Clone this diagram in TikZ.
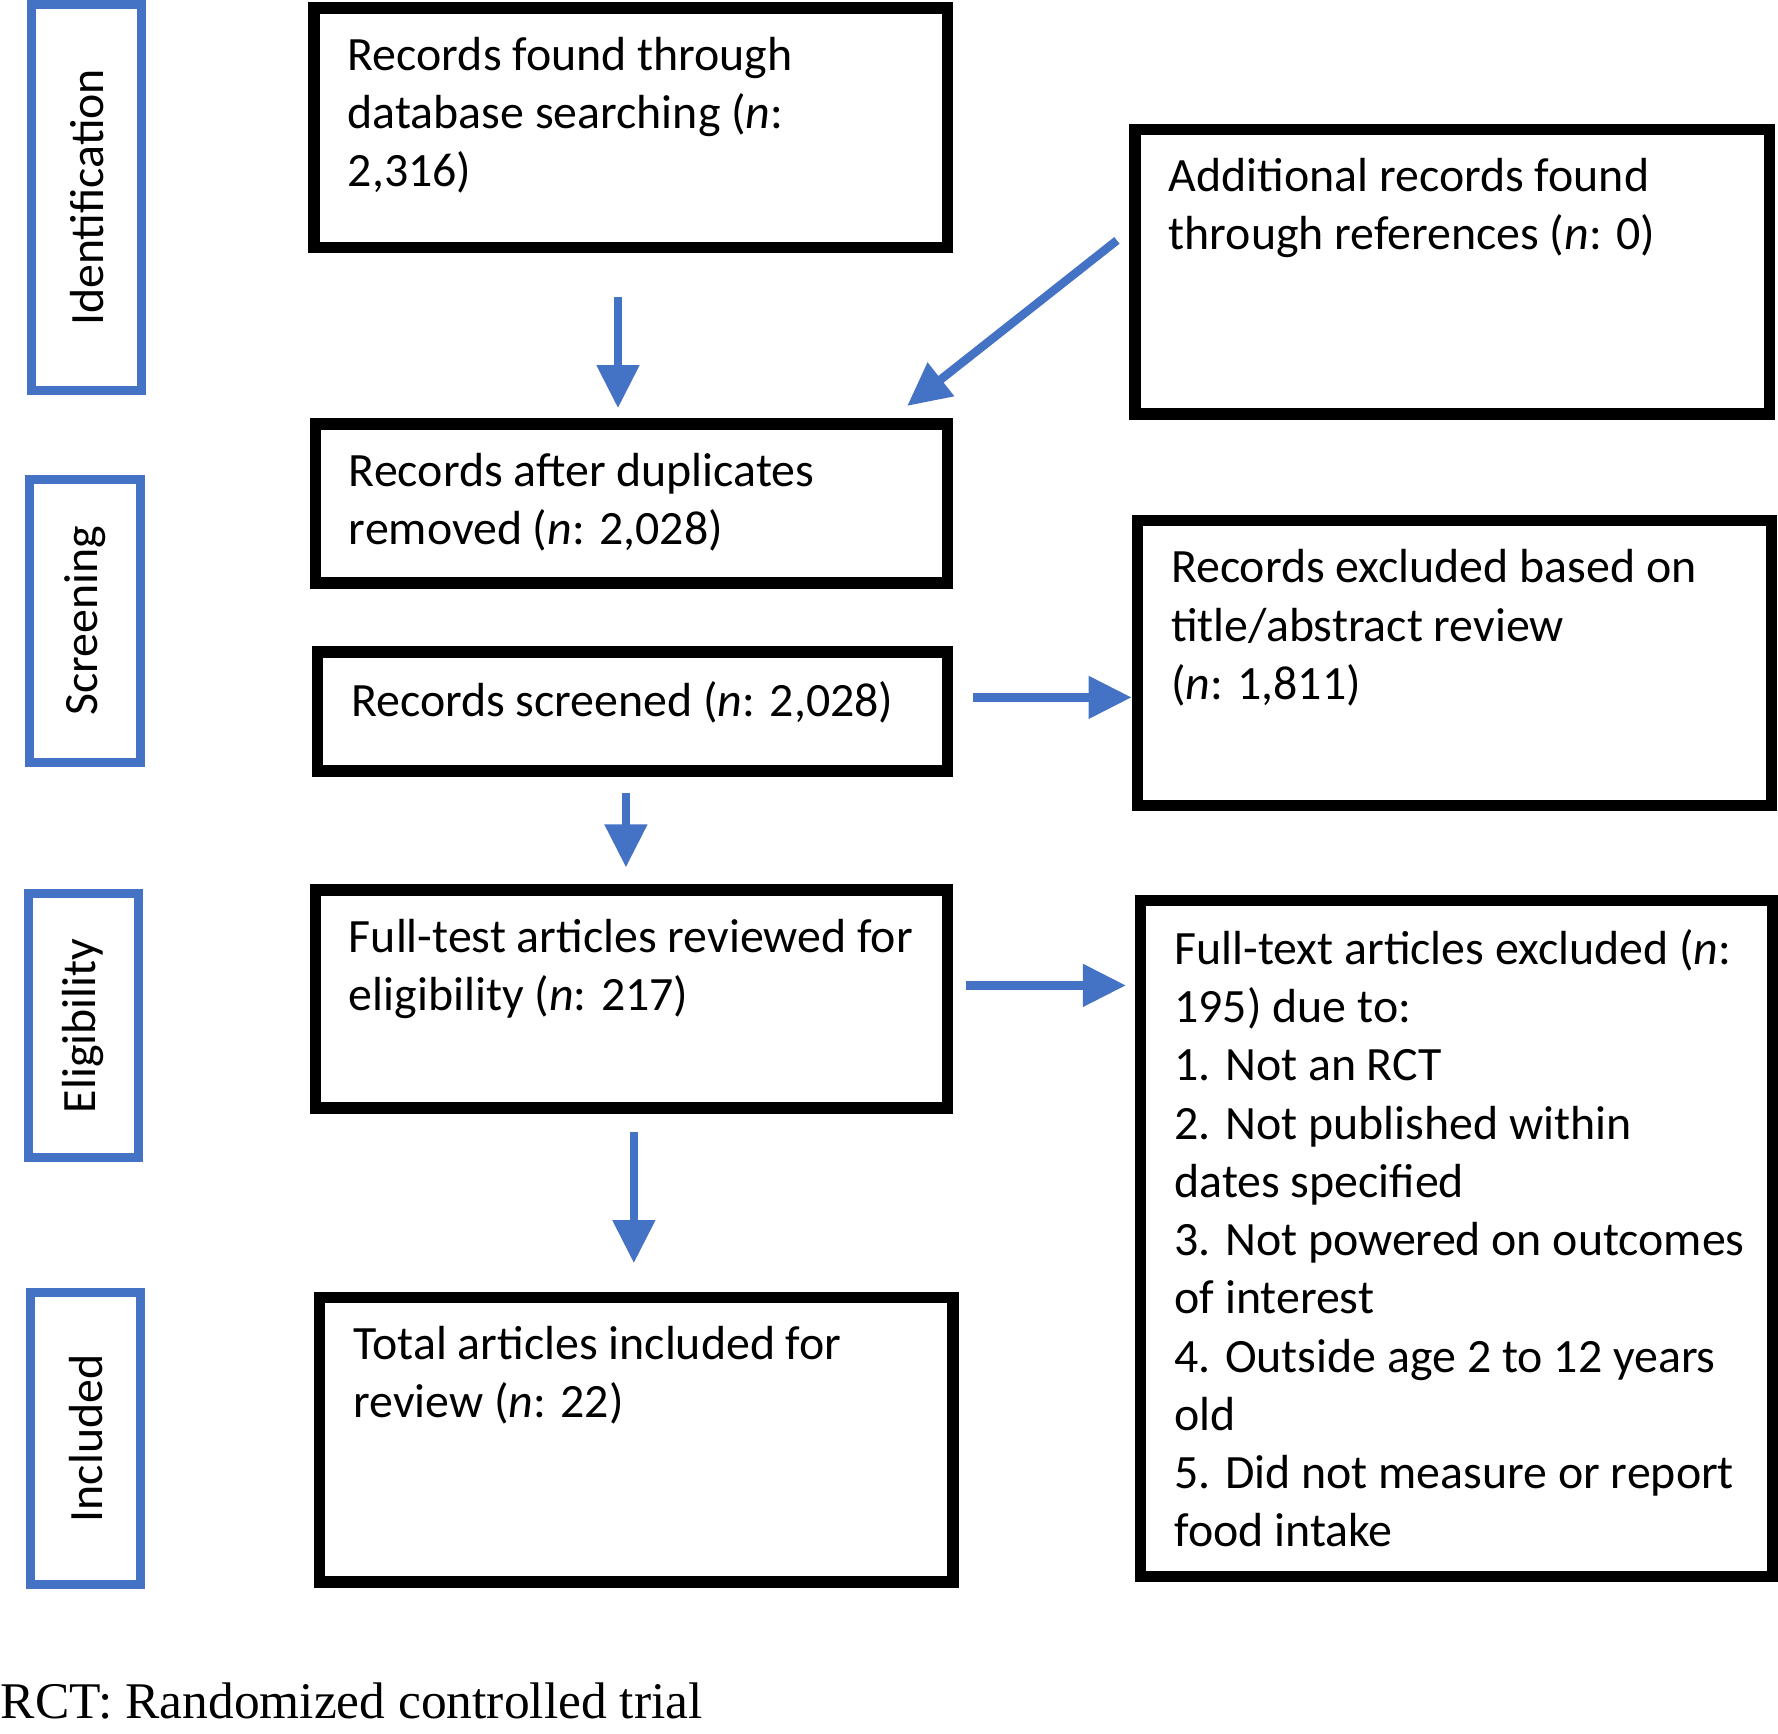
\documentclass[tikz,border=0pt]{standalone}
\usepackage{fontspec}
\setmainfont{Carlito}
\newfontfamily\notefont{Liberation Serif}
\usetikzlibrary{arrows.meta, positioning}

\begin{document}
\begin{tikzpicture}[
    x=0.01cm, y=-0.01cm,
    every node/.style={font=\fontsize{12}{14.6}\selectfont},
    box/.style={draw, line width=1mm, rectangle, anchor=north west, inner sep=0pt},
    stage/.style={draw=stageblue, line width=0.8mm, rectangle, anchor=north west, inner sep=0pt},
    stagetext/.style={rotate=90, inner sep=0pt},
    boxtext/.style={anchor=north west, align=left, inner sep=0pt},
    arrow/.style={-{Triangle[width=3.6mm,length=3.8mm]}, line width=0.75mm, draw=stageblue}
]
\definecolor{stageblue}{HTML}{4472C4}
\useasboundingbox (0,0) rectangle (1568,1529);

% === Stage labels (left column) ===
\node[stage, minimum width=0.97cm, minimum height=3.4cm] (ident) at (24,0) {};
\node[stagetext] at (ident.center) {Identification};
\node[stage, minimum width=0.98cm, minimum height=2.49cm] (screen) at (22,419) {};
\node[stagetext] at (screen.center) {Screening};
\node[stage, minimum width=0.97cm, minimum height=2.33cm] (elig) at (21,784) {};
\node[stagetext] at (elig.center) {Eligibility};
\node[stage, minimum width=0.97cm, minimum height=2.57cm] (incl) at (23,1136) {};
\node[stagetext] at (incl.center) {Included};

% === Main column ===
\node[box, minimum width=5.58cm, minimum height=2.11cm] (database) at (272,2) {};
\node[boxtext] at ([xshift=0.34cm,yshift=-0.3cm]database.north west)
    {Records found through\\database searching (\textit{n}:\\2,316)};
\node[box, minimum width=5.57cm, minimum height=1.4cm] (duplicates) at (273,369) {};
\node[boxtext] at ([xshift=0.34cm,yshift=-0.3cm]duplicates.north west)
    {Records after duplicates\\removed (\textit{n}: 2,028)};
\node[box, minimum width=5.55cm, minimum height=1.05cm] (screened) at (275,570) {};
\node[boxtext] at ([xshift=0.34cm,yshift=-0.3cm]screened.north west)
    {Records screened (\textit{n}: 2,028)};
\node[box, minimum width=5.57cm, minimum height=1.92cm] (fulltest) at (273,780) {};
\node[boxtext] at ([xshift=0.34cm,yshift=-0.3cm]fulltest.north west)
    {Full-test articles reviewed for\\eligibility (\textit{n}: 217)};
\node[box, minimum width=5.58cm, minimum height=2.51cm] (total) at (277,1139) {};
\node[boxtext] at ([xshift=0.34cm,yshift=-0.3cm]total.north west)
    {Total articles included for\\review (\textit{n}: 22)};

% === Right column ===
\node[box, minimum width=5.59cm, minimum height=2.51cm] (references) at (996,109) {};
\node[boxtext] at ([xshift=0.34cm,yshift=-0.3cm]references.north west)
    {Additional records found\\through references (\textit{n}: 0)};
\node[box, minimum width=5.59cm, minimum height=2.51cm] (titleexcl) at (998,454) {};
\node[boxtext] at ([xshift=0.34cm,yshift=-0.3cm]titleexcl.north west)
    {Records excluded based on\\title/abstract review\\(\textit{n}: 1,811)};
\node[box, minimum width=5.57cm, minimum height=5.96cm] (fullexcl) at (1001,789) {};
\node[boxtext] at ([xshift=0.34cm,yshift=-0.3cm]fullexcl.north west)
    {Full-text articles excluded (\textit{n}:\\195) due to:\\1. Not an RCT\\2. Not published within\\dates specified\\3. Not powered on outcomes\\of interest\\4. Outside age 2 to 12 years\\old\\5. Did not measure or report\\food intake};

% === Arrow end points ===
\coordinate (dbout) at (545,262);
\coordinate (dupin) at (545,360);
\coordinate (refout) at (985,212);
\coordinate (refin) at (800,358);
\coordinate (scrout) at (858,615);
\coordinate (titlein) at (998,615);
\coordinate (scrdown) at (552,699);
\coordinate (fullin) at (552,765);
\coordinate (ftout) at (852,869);
\coordinate (exclin) at (993,869);
\coordinate (ftdown) at (559,998);
\coordinate (totalin) at (559,1114);

% === Arrows ===
\draw[arrow] (dbout) -- (dupin);
\draw[arrow] (refout) -- (refin);
\draw[arrow] (scrout) -- (titlein);
\draw[arrow] (scrdown) -- (fullin);
\draw[arrow] (ftout) -- (exclin);
\draw[arrow] (ftdown) -- (totalin);

% === Footnote ===
\node[anchor=west, inner sep=0pt, font=\notefont\fontsize{12.9}{15}\selectfont] (note) at (0,1500) {RCT: Randomized controlled trial};
\end{tikzpicture}
\end{document}
